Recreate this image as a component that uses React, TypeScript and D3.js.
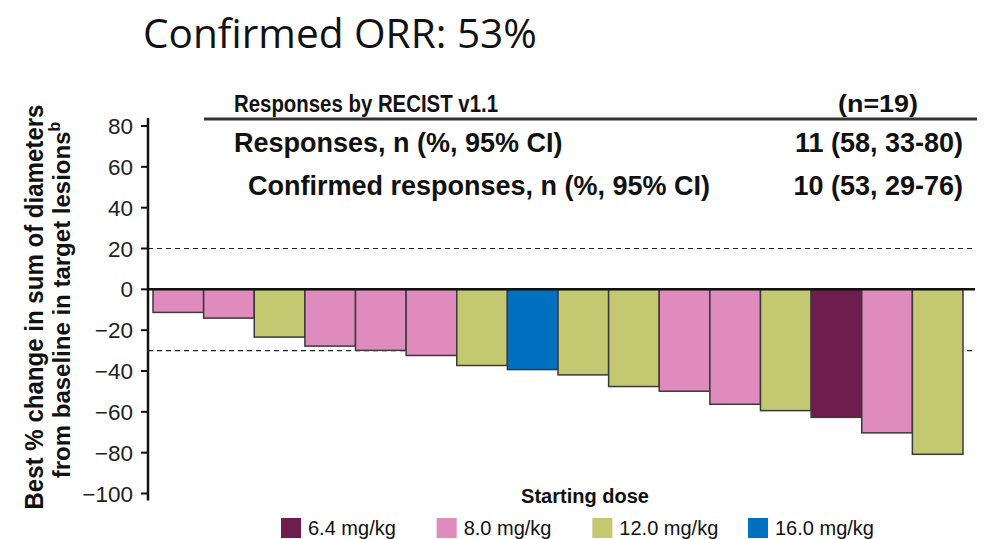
import React from "react";
import * as d3 from "d3";

const doses = ["8.0", "8.0", "12.0", "8.0", "8.0", "8.0", "12.0", "16.0", "12.0", "12.0", "8.0", "8.0", "12.0", "6.4", "8.0", "12.0"];
const changes = [-11.3, -14.1, -23.4, -27.8, -29.9, -32.4, -37.3, -39.3, -41.9, -47.6, -49.9, -56.3, -59.4, -62.7, -70.3, -80.8];
const legendDoses = ["6.4", "8.0", "12.0", "16.0"];
const doseColors = ["#6d1e4f", "#df8bbd", "#c4c870", "#0070c0"];
const yTicks = [80, 60, 40, 20, 0, -20, -40, -60, -80, -100];
const refLines = [20, -30];
const tableRows = [
  { label: "Responses, n (%, 95% CI)", value: "11 (58, 33-80)", indent: 0 },
  { label: "Confirmed responses, n (%, 95% CI)", value: "10 (53, 29-76)", indent: 14 },
];

const FONT = "'Liberation Sans', Arial, sans-serif";

function App() {
  const width = 989;
  const height = 539;
  const axisX = 148;
  const plotRight = 975;

  const xScale = d3
    .scaleBand<number>()
    .domain(changes.map((_, i) => i))
    .range([153, 963])
    .padding(0);

  const yScale = d3.scaleLinear().domain([-100, 80]).range([493.5, 126]);

  const color = d3.scaleOrdinal<string, string>().domain(legendDoses).range(doseColors);

  const legendX = d3.scalePoint<string>().domain(legendDoses).range([281, 748]);

  return (
    <svg width={width} height={height} style={{ position: "absolute", left: 0, top: 0 }}>
      <rect width={width} height={height} fill="#fff" />
      <text x={143} y={48} fontFamily="'Open Sans', sans-serif" fontSize={40.6} fill="#111">
        Confirmed ORR: 53%
      </text>

      {/* summary table */}
      <g fontFamily={FONT} fontWeight="bold" fill="#111">
        <text x={234} y={112} fontSize={23.5} textLength={264} lengthAdjust="spacingAndGlyphs">
          Responses by RECIST v1.1
        </text>
        <text x={838} y={112} fontSize={24} textLength={80} lengthAdjust="spacingAndGlyphs">(n=19)</text>
        <line x1={204} x2={plotRight + 2} y1={119} y2={119} stroke="#333" strokeWidth={3} />
        {tableRows.map((r, i) => (
          <g key={i}>
            <text x={234 + r.indent} y={152 + i * 43} fontSize={27}>{r.label}</text>
            <text x={963} y={152 + i * 43} fontSize={27} textAnchor="end">{r.value}</text>
          </g>
        ))}
      </g>

      {/* reference lines */}
      {refLines.map((v) => (
        <line key={v} x1={axisX} x2={plotRight} y1={yScale(v)} y2={yScale(v)} stroke="#222" strokeWidth={1.2} strokeDasharray="5,4" />
      ))}

      {/* bars */}
      {changes.map((v, i) => (
        <rect
          key={i}
          x={xScale(i)}
          y={yScale(0)}
          width={xScale.bandwidth()}
          height={yScale(v) - yScale(0)}
          fill={color(doses[i])}
          stroke="#3a3a3a"
          strokeWidth={1.5}
        />
      ))}

      <line x1={axisX} x2={plotRight} y1={yScale(0)} y2={yScale(0)} stroke="#111" strokeWidth={2.5} />

      {/* y axis */}
      <line x1={axisX} x2={axisX} y1={yScale(80) - 8} y2={yScale(-100) + 7} stroke="#111" strokeWidth={2.5} />
      {yTicks.map((t) => (
        <g key={t}>
          <line x1={axisX - 7} x2={axisX} y1={yScale(t)} y2={yScale(t)} stroke="#111" strokeWidth={2} />
          <text x={133} y={yScale(t)} dy="0.36em" textAnchor="end" fontFamily={FONT} fontSize={22.5} fill="#222">
            {t < 0 ? `\u2212${Math.abs(t)}` : t}
          </text>
        </g>
      ))}

      <g transform={`translate(43, 307) rotate(-90)`} fontFamily={FONT} fontWeight="bold" fontSize={25} fill="#111" textAnchor="middle">
        <text x={0} y={0} textLength={405} lengthAdjust="spacingAndGlyphs">Best % change in sum of diameters</text>
        <text x={7} y={27} fontSize={24}>
          from baseline in target lesions<tspan fontSize={16} dy={-10}>b</tspan>
        </text>
      </g>

      {/* legend */}
      <text x={585} y={503} textAnchor="middle" fontFamily={FONT} fontWeight="bold" fontSize={20} fill="#111">
        Starting dose
      </text>
      {legendDoses.map((d) => (
        <g key={d} transform={`translate(${legendX(d)}, 518)`}>
          <rect width={20} height={20} fill={color(d)} />
          <text x={27} y={17} fontFamily={FONT} fontSize={20} fill="#111">{`${d} mg/kg`}</text>
        </g>
      ))}
    </svg>
  );
}

export default App;
